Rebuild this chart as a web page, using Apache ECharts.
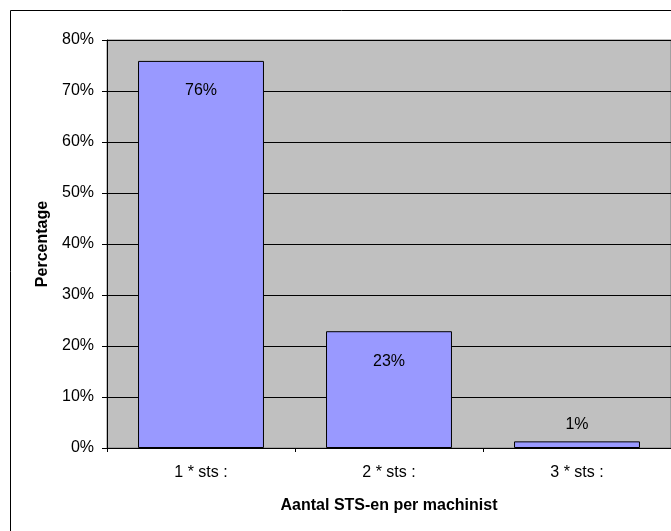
<!DOCTYPE html>
<html>
<head>
<meta charset="utf-8">
<script src="https://cdn.jsdelivr.net/npm/echarts@6/dist/echarts.min.js"></script>
<style>html,body{margin:0;padding:0;background:#fff;}#c{width:671px;height:531px;}</style>
</head>
<body>
<div id="c"></div>
<script>
var categories = ['1 * sts :', '2 * sts :', '3 * sts :'];
var values = [75.9, 22.9, 1.3];
var yTicks = [0, 10, 20, 30, 40, 50, 60, 70, 80];
var xTitle = 'Aantal STS-en per machinist';
var yTitle = 'Percentage';

var chart = echarts.init(document.getElementById('c'), null, {renderer: 'canvas'});
var font = 'Arial, "Liberation Sans", sans-serif';
var seriesData = values.map(function (v, i) {
  var d = {value: v};
  if (v < 5) {
    d.label = {position: 'top', distance: 9};
  }
  return d;
});
chart.setOption({
  animation: false,
  backgroundColor: '#ffffff',
  graphic: [{
    type: 'rect',
    shape: {x: 10.5, y: 10.5, width: 700, height: 600},
    style: {fill: null, stroke: '#000', lineWidth: 1},
    silent: true, z: -1
  }],
  grid: {
    left: 107, top: 40, right: 0, bottom: 83,
    show: true, backgroundColor: '#C0C0C0', borderColor: '#808080', borderWidth: 1
  },
  xAxis: {
    type: 'category',
    data: categories,
    name: xTitle,
    nameLocation: 'middle',
    nameGap: 50,
    nameTextStyle: {fontFamily: font, fontSize: 16, fontWeight: 'bold', color: '#000'},
    axisLine: {lineStyle: {color: '#000', width: 1}},
    axisTick: {show: true, length: 4, lineStyle: {color: '#000'}},
    axisLabel: {fontFamily: font, fontSize: 16, color: '#000', margin: 17},
    splitLine: {show: false}
  },
  yAxis: {
    type: 'value',
    min: yTicks[0], max: yTicks[yTicks.length - 1], interval: 10,
    name: yTitle,
    nameLocation: 'middle',
    nameGap: 55,
    nameRotate: 90,
    nameTextStyle: {fontFamily: font, fontSize: 16, fontWeight: 'bold', color: '#000'},
    axisLine: {show: true, lineStyle: {color: '#000', width: 1}},
    axisTick: {show: true, length: 5, lineStyle: {color: '#000'}},
    axisLabel: {fontFamily: font, fontSize: 16, color: '#000', margin: 13, formatter: '{value}%'},
    splitLine: {show: true, lineStyle: {color: '#000', width: 1}}
  },
  series: [{
    type: 'bar',
    data: seriesData,
    barWidth: '67%',
    itemStyle: {color: '#9999FF', borderColor: '#000', borderWidth: 1},
    label: {
      show: true,
      position: 'insideTop',
      distance: 22,
      fontFamily: font, fontSize: 16, color: '#000',
      formatter: function (p) { return Math.round(p.value) + '%'; }
    }
  }]
});
</script>
</body>
</html>
